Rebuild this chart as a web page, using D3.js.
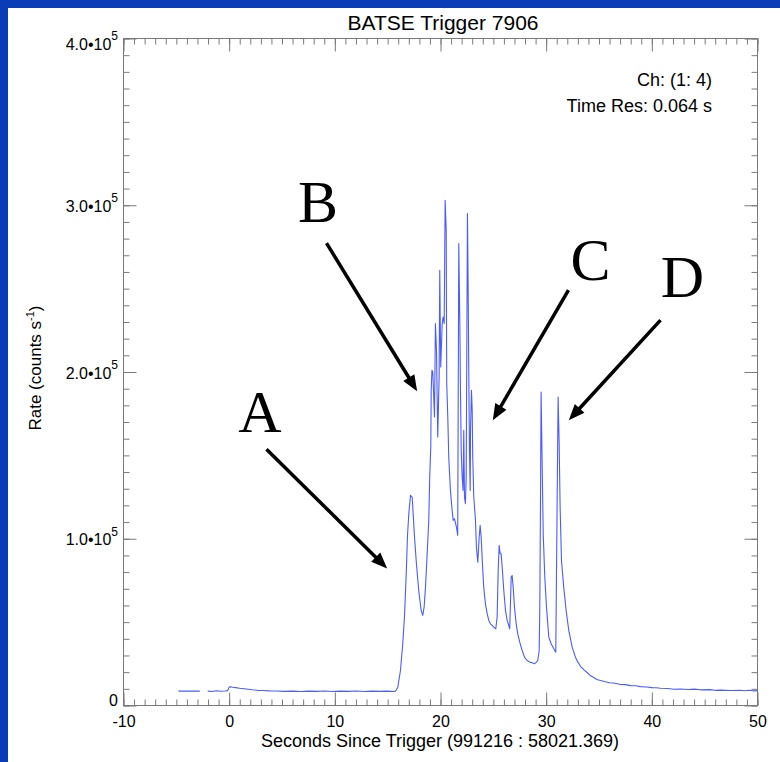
<!DOCTYPE html>
<html>
<head>
<meta charset="utf-8">
<script src="https://cdn.jsdelivr.net/npm/d3@7"></script>
<style>
  html, body { margin: 0; padding: 0; background: #ffffff; overflow: hidden; }
  svg { display: block; }
</style>
</head>
<body>
<svg id="chart" width="780" height="762"></svg>
<script>
// BATSE trigger 7906 light curve, channels 1-4, 0.064 s resolution
const seconds = [
  -4.80, -2.78, -2.40, -2.03, -1.60, -1.20, -0.80, -0.40, -0.15, 0.00, 0.15, 0.35, 0.60,
  1.00, 1.40, 1.80, 2.20, 2.70, 3.20, 3.80, 4.50, 5.20, 6.00, 6.80, 7.50, 8.30, 9.00,
  9.80, 10.50, 11.30, 12.00, 12.80, 13.50, 14.30, 15.00, 15.50, 15.74,
  15.96, 16.21, 16.43, 16.59, 16.68, 16.78, 16.87, 17.00, 17.16, 17.32, 17.41, 17.54,
  17.72, 17.94, 18.17, 18.32, 18.45, 18.58, 18.74, 18.89, 18.98, 19.08, 19.12, 19.19,
  19.27, 19.43, 19.52, 19.62, 19.74, 19.87, 19.93, 20.02, 20.16, 20.25, 20.35, 20.44,
  20.54, 20.59, 20.69, 20.78, 20.94, 21.10, 21.20, 21.32, 21.51, 21.63, 21.73, 21.83,
  21.89, 21.96, 22.05, 22.14, 22.20, 22.27, 22.36, 22.43, 22.55, 22.62, 22.67, 22.74,
  22.81, 22.84, 22.93, 23.00, 23.05, 23.15, 23.31, 23.40, 23.53, 23.66, 23.75, 23.85,
  23.97, 24.09, 24.25, 24.42, 24.57, 24.73, 24.89, 25.04, 25.23, 25.36, 25.46, 25.55,
  25.65, 25.74, 25.86, 25.99, 26.15, 26.31, 26.46, 26.55, 26.62, 26.69, 26.78, 26.88,
  27.00, 27.16, 27.31, 27.50, 27.73, 27.95, 28.20, 28.45, 28.67, 28.89, 29.08, 29.20,
  29.34, 29.40, 29.46, 29.52, 29.62, 29.72, 29.87, 30.03, 30.25, 30.47, 30.72, 30.91,
  31.04, 31.13, 31.23, 31.32, 31.45, 31.66, 31.89, 32.14, 32.46, 32.77, 33.00, 33.25,
  33.55, 33.88, 34.20, 34.50, 34.80, 35.14, 35.60, 36.00, 36.50, 37.03, 37.50, 38.00,
  38.50, 38.92, 39.50, 40.00, 40.40, 40.81, 41.50, 42.10, 42.70, 43.50, 44.00, 44.60,
  45.50, 46.00, 46.49, 47.40, 48.38, 48.80, 49.20, 49.60, 50.00
];
const rate = [
  8600, 8600, null, 8600, 8400, 8800, 8500, 8700, 8900, 11000, 11200, 10900, 10700,
  10300, 10000, 9700, 9400, 9100, 9000, 8800, 8700, 8500, 8600, 8400, 8600, 8500, 8700,
  8400, 8600, 8500, 8700, 8400, 8600, 8500, 8600, 8400, 8600,
  11000, 21000, 37200, 53000, 67200, 83000, 101000, 115000, 126000, 125000, 115200, 101000,
  85200, 69000, 57000, 54000, 59000, 71000, 91200, 111000, 137000, 155000, 189000, 201000,
  200000, 173000, 229000, 213000, 161000, 197000, 261000, 203000, 229000, 233000, 229000, 303000,
  285000, 193000, 173000, 149000, 129000, 117000, 111000, 112000, 107000, 102000, 277000, 229000,
  189000, 153000, 137000, 129000, 165000, 125000, 121000, 137000, 295000, 249000, 205000, 153000,
  129000, 165000, 189000, 177000, 149000, 125000, 111000, 95000, 86000, 101000, 108000, 101000,
  85000, 71000, 61000, 55000, 51000, 49000, 48000, 47000, 46000, 53000, 81000, 96000,
  91000, 91000, 81000, 69000, 57000, 51000, 48000, 46000, 61000, 77000, 78000, 71000,
  59000, 49000, 43000, 38000, 33000, 29000, 27000, 26000, 25600, 25000, 26000, 27000,
  33000, 60000, 120000, 188000, 145000, 103000, 77000, 59000, 41000, 37000, 34000, 32000,
  123000, 185000, 157000, 119000, 87000, 71000, 57000, 45000, 35000, 29000, 26000, 23500,
  21500, 19800, 17800, 16800, 15600, 15000, 14200, 13600, 13300, 12600, 12500, 11900,
  11800, 11300, 11100, 10700, 10600, 10300, 10200, 9700, 9900, 9600, 9800, 9400,
  9500, 9100, 9200, 9000, 9100, 8800, 9100, 8800, 8900
];

// Axis ticks and labels
const xTicks = [-10, 0, 10, 20, 30, 40, 50];
const xMinorTicks = d3.range(-10, 51, 1);
const yTicks = [0, 100000, 200000, 300000, 400000];
const yMinorTicks = d3.range(0, 400001, 10000);
const yTickMantissa = ["0", "1.0\u202210", "2.0\u202210", "3.0\u202210", "4.0\u202210"];
const yTickExponent = ["", "5", "5", "5", "5"];

// Letter call-outs with arrows (data coordinates)
const calloutLetters = ["A", "B", "C", "D"];
const calloutLetterT = [2.91, 8.40, 34.19, 42.90];
const calloutLetterV = [163900, 289900, 255100, 244900];
const arrowFromT = [3.53, 9.21, 32.11, 40.82];
const arrowFromV = [153700, 277300, 249100, 231100];
const arrowToT = [14.95, 17.79, 24.95, 32.14];
const arrowToV = [82200, 188500, 171100, 171100];

const svg = d3.select("#chart");
const W = 780, H = 762;
const sans = "'Liberation Sans', Arial, Helvetica, sans-serif";
const serif = "'Liberation Serif', 'Times New Roman', Times, serif";
const axisGrey = "#7a7a7a";

// background with blue frame strips along the top and left
svg.append("rect").attr("width", W).attr("height", H).attr("fill", "#0a3cb8");
svg.append("rect").attr("x", 8).attr("y", 8).attr("width", W).attr("height", H).attr("fill", "#ffffff");

const plotL = 123.5, plotR = 757.5, plotT = 38.5, plotB = 705.5;
const x = d3.scaleLinear().domain([-10, 50]).range([plotL, plotR]);
const y = d3.scaleLinear().domain([0, 400000]).range([plotB, plotT]);

// light curve
const pts = seconds.map((t, i) => [t, rate[i]]);
const line = d3.line()
  .defined(d => d[1] !== null)
  .x(d => x(d[0]))
  .y(d => y(d[1]));
svg.append("path")
  .datum(pts)
  .attr("d", line)
  .attr("fill", "none")
  .attr("stroke", "#4b5cff")
  .attr("stroke-width", 1.1)
  .attr("stroke-linejoin", "round");

// axes: ticks point inward on all four sides
function styleAxis(g) {
  g.select(".domain").remove();
  g.selectAll(".tick line").attr("stroke", axisGrey).attr("stroke-width", 1);
}
const noLabel = () => "";

svg.append("g").attr("transform", `translate(0,${plotB})`)
  .call(d3.axisBottom(x).tickValues(xMinorTicks).tickSize(-6).tickFormat(noLabel))
  .call(styleAxis);
svg.append("g").attr("transform", `translate(0,${plotB})`)
  .call(d3.axisBottom(x).tickValues(xTicks).tickSize(-13).tickPadding(10.5).tickFormat(d => String(d)))
  .call(styleAxis)
  .call(g => g.selectAll("text").attr("fill", "#000").attr("font-family", sans).attr("font-size", 16));

svg.append("g").attr("transform", `translate(0,${plotT})`)
  .call(d3.axisTop(x).tickValues(xMinorTicks).tickSize(-6).tickFormat(noLabel))
  .call(styleAxis);
svg.append("g").attr("transform", `translate(0,${plotT})`)
  .call(d3.axisTop(x).tickValues(xTicks).tickSize(-13).tickFormat(noLabel))
  .call(styleAxis);

svg.append("g").attr("transform", `translate(${plotL},0)`)
  .call(d3.axisLeft(y).tickValues(yMinorTicks).tickSize(-6).tickFormat(noLabel))
  .call(styleAxis);
svg.append("g").attr("transform", `translate(${plotL},0)`)
  .call(d3.axisLeft(y).tickValues(yTicks).tickSize(-13).tickFormat(noLabel))
  .call(styleAxis);

svg.append("g").attr("transform", `translate(${plotR},0)`)
  .call(d3.axisRight(y).tickValues(yMinorTicks).tickSize(-6).tickFormat(noLabel))
  .call(styleAxis);
svg.append("g").attr("transform", `translate(${plotR},0)`)
  .call(d3.axisRight(y).tickValues(yTicks).tickSize(-13).tickFormat(noLabel))
  .call(styleAxis);

// plot frame
svg.append("rect")
  .attr("x", plotL).attr("y", plotT)
  .attr("width", plotR - plotL).attr("height", plotB - plotT)
  .attr("fill", "none").attr("stroke", axisGrey).attr("stroke-width", 1);

// y tick labels with power-of-ten superscripts, kept inside the axis span
const yLab = svg.append("g").attr("font-family", sans).attr("fill", "#000");
yTicks.forEach((v, i) => {
  const base = Math.min(Math.max(y(v) + 6.5, plotT + 11), plotB);
  const t = yLab.append("text")
    .attr("x", 118).attr("y", base)
    .attr("text-anchor", "end")
    .attr("font-size", 16);
  t.append("tspan").text(yTickMantissa[i]);
  if (yTickExponent[i]) {
    t.append("tspan").attr("dy", -9.5).attr("font-size", 12).text(yTickExponent[i]);
  }
});

// titles
svg.append("text")
  .attr("x", 443).attr("y", 30)
  .attr("text-anchor", "middle")
  .attr("font-family", sans).attr("font-size", 21)
  .text("BATSE Trigger 7906");

svg.append("text")
  .attr("x", 440).attr("y", 747)
  .attr("text-anchor", "middle")
  .attr("font-family", sans).attr("font-size", 18)
  .text("Seconds Since Trigger (991216 : 58021.369)");

const yTitle = svg.append("text")
  .attr("transform", "translate(41,368) rotate(-90)")
  .attr("text-anchor", "middle")
  .attr("font-family", sans).attr("font-size", 17);
yTitle.append("tspan").text("Rate (counts s");
yTitle.append("tspan").attr("dy", -7).attr("font-size", 11).text("-1");
yTitle.append("tspan").attr("dy", 7).text(")");

// channel / resolution notes
svg.append("text")
  .attr("x", 712).attr("y", 86)
  .attr("text-anchor", "end")
  .attr("font-family", sans).attr("font-size", 18)
  .text("Ch: (1: 4)");
svg.append("text")
  .attr("x", 712).attr("y", 111.5)
  .attr("text-anchor", "end")
  .attr("font-family", sans).attr("font-size", 18)
  .text("Time Res: 0.064 s");

// letter call-outs and arrows
const ann = svg.append("g");
calloutLetters.forEach((L, i) => {
  ann.append("text")
    .attr("x", x(calloutLetterT[i])).attr("y", y(calloutLetterV[i]))
    .attr("text-anchor", "middle")
    .attr("font-family", serif).attr("font-size", 60)
    .attr("fill", "#000")
    .text(L);

  const x0 = x(arrowFromT[i]), y0 = y(arrowFromV[i]);
  const x1 = x(arrowToT[i]), y1 = y(arrowToV[i]);
  const len = Math.hypot(x1 - x0, y1 - y0);
  const ux = (x1 - x0) / len, uy = (y1 - y0) / len;
  const nx = -uy, ny = ux;
  const headL = 16, headW = 6.5;
  ann.append("line")
    .attr("x1", x0).attr("y1", y0)
    .attr("x2", x1 - ux * headL * 0.8).attr("y2", y1 - uy * headL * 0.8)
    .attr("stroke", "#000").attr("stroke-width", 3.5);
  const bx = x1 - ux * headL, by = y1 - uy * headL;
  ann.append("polygon")
    .attr("points", [
      [x1, y1],
      [bx + nx * headW, by + ny * headW],
      [bx - nx * headW, by - ny * headW]
    ].map(p => p.join(",")).join(" "))
    .attr("fill", "#000");
});
</script>
</body>
</html>
